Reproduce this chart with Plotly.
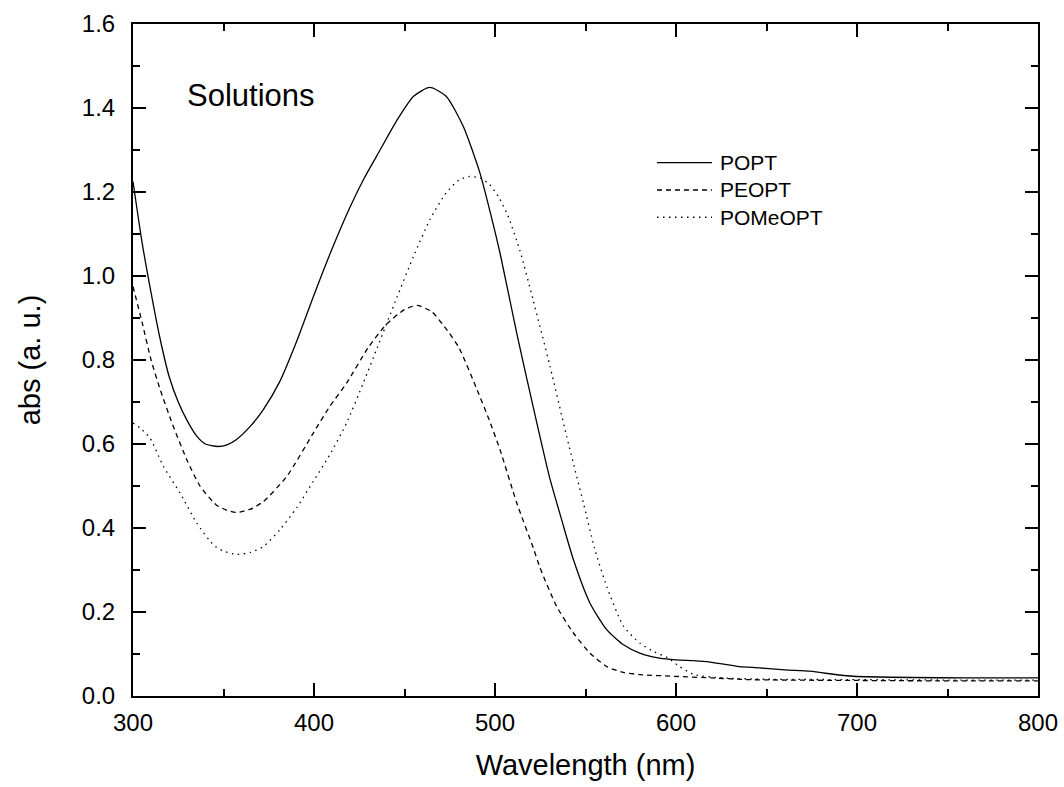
import plotly.graph_objects as go

# ---- data ----
popt_wl = [300, 305, 310, 315, 320, 325, 330, 335, 340, 347, 352, 357, 365, 372, 381,
           390, 400, 410, 420, 428, 436.5, 445.7, 455, 464, 473, 482.5, 491.7, 497,
           503, 512, 521, 530, 536.8, 543.3, 552.5, 561.7, 571, 580, 591, 600, 610,
           617, 635, 646, 660, 674, 690, 698, 730, 760, 800]
popt_abs = [1.225, 1.08, 0.96, 0.85, 0.76, 0.70, 0.655, 0.62, 0.60, 0.594, 0.598, 0.61,
            0.643, 0.682, 0.748, 0.84, 0.955, 1.065, 1.165, 1.235, 1.30, 1.37, 1.428,
            1.449, 1.428, 1.356, 1.245, 1.158, 1.05, 0.864, 0.69, 0.523, 0.42, 0.325,
            0.221, 0.158, 0.122, 0.102, 0.09, 0.086, 0.084, 0.082, 0.07, 0.067, 0.062,
            0.059, 0.05, 0.047, 0.044, 0.043, 0.043]

peopt_wl = [300, 305, 310, 315, 322, 330, 337, 346, 352, 357.3, 365, 372, 385, 399.6,
            408.8, 418, 430, 440, 450, 457, 465, 472, 480, 490, 497, 502.8, 512, 521.2,
            524.9, 534.1, 543.3, 552.5, 561.7, 570.9, 580, 598.5, 620, 640, 700, 750, 800]
peopt_abs = [0.975, 0.89, 0.80, 0.73, 0.645, 0.56, 0.50, 0.455, 0.442, 0.437, 0.445,
             0.463, 0.523, 0.626, 0.69, 0.745, 0.83, 0.885, 0.92, 0.93, 0.915, 0.88,
             0.83, 0.73, 0.655, 0.586, 0.46, 0.352, 0.305, 0.213, 0.15, 0.102, 0.07,
             0.056, 0.051, 0.047, 0.043, 0.039, 0.037, 0.036, 0.036]

pomeopt_wl = [300, 304, 309.4, 316.8, 326, 335.2, 344.4, 350, 357.6, 365, 372, 381.2,
              390.4, 399.6, 408.8, 418, 427.2, 435, 445, 455, 464, 473, 480, 486, 492,
              497, 502, 507, 513.8, 521, 530.4, 539.6, 548.8, 555, 561.7, 571, 580,
              588, 595, 602, 610, 626, 650, 700, 750, 800]
pomeopt_abs = [0.65, 0.638, 0.614, 0.547, 0.483, 0.412, 0.36, 0.345, 0.337, 0.342,
               0.356, 0.396, 0.448, 0.511, 0.575, 0.65, 0.745, 0.83, 0.94, 1.047, 1.134,
               1.198, 1.228, 1.237, 1.233, 1.218, 1.188, 1.145, 1.06, 0.944, 0.785, 0.618,
               0.46, 0.352, 0.261, 0.166, 0.126, 0.105, 0.092, 0.07, 0.051, 0.043, 0.04,
               0.039, 0.038, 0.038]

series_names = ["POPT", "PEOPT", "POMeOPT"]
series_dash = ["solid", "5px,4px", "1.5px,4.5px"]
x_ticks = [300, 400, 500, 600, 700, 800]
y_ticks = [0.0, 0.2, 0.4, 0.6, 0.8, 1.0, 1.2, 1.4, 1.6]

FONT = "Liberation Sans, Arial, Helvetica, sans-serif"

fig = go.Figure()
for name, xs, ys, dash in zip(series_names,
                              [popt_wl, peopt_wl, pomeopt_wl],
                              [popt_abs, peopt_abs, pomeopt_abs], series_dash):
    fig.add_trace(go.Scatter(x=xs, y=ys, name=name, mode="lines", showlegend=False,
                             line=dict(color="black", width=1.3, dash=dash,
                                       shape="spline", smoothing=0.6)))

axis_common = dict(showgrid=False, zeroline=False, showline=True, linecolor="black",
                   linewidth=2, mirror="ticks", ticks="inside", ticklen=13,
                   tickwidth=2, tickcolor="black",
                   tickfont=dict(family=FONT, size=24, color="black"))

fig.update_xaxes(range=[300, 800], tickvals=x_ticks,
                 ticktext=[str(v) for v in x_ticks],
                 minor=dict(dtick=50, ticks="inside", ticklen=7, tickwidth=2,
                            tickcolor="black"),
                 title=dict(text="Wavelength (nm)", font=dict(family=FONT, size=29,
                                                              color="black"),
                            standoff=20),
                 ticklabelstandoff=4,
                 **axis_common)
fig.update_yaxes(range=[0, 1.6], tickvals=y_ticks,
                 ticktext=[f"{v:.1f}" for v in y_ticks],
                 minor=dict(dtick=0.1, ticks="inside", ticklen=7, tickwidth=2,
                            tickcolor="black"),
                 title=dict(text="abs (a. u.)", font=dict(family=FONT, size=29,
                                                          color="black"),
                            standoff=33),
                 ticklabelstandoff=11,
                 **axis_common)

fig.add_annotation(text="Solutions", xref="paper", yref="paper", x=0.0575, y=0.893,
                   xanchor="left", yanchor="middle", showarrow=False,
                   font=dict(family=FONT, size=31, color="black"))

# hand-drawn legend (line sample + label)
legend_y = [0.7936, 0.753, 0.7124]
for name, dash, ly in zip(series_names, series_dash, legend_y):
    fig.add_shape(type="line", xref="paper", yref="paper", x0=0.579, x1=0.6398,
                  y0=ly, y1=ly, line=dict(color="black", width=1.3, dash=dash))
    fig.add_annotation(text=name, xref="paper", yref="paper", x=0.6464, y=ly,
                       xanchor="left", yanchor="middle", showarrow=False,
                       font=dict(family=FONT, size=21, color="black"))

fig.update_layout(width=1064, height=787, plot_bgcolor="white", paper_bgcolor="white",
                  margin=dict(l=133, r=26, t=24, b=91, autoexpand=False),
                  showlegend=False)

fig.write_html("out.html", config={"displayModeBar": False},
               post_script="document.body.style.margin='0px';")
